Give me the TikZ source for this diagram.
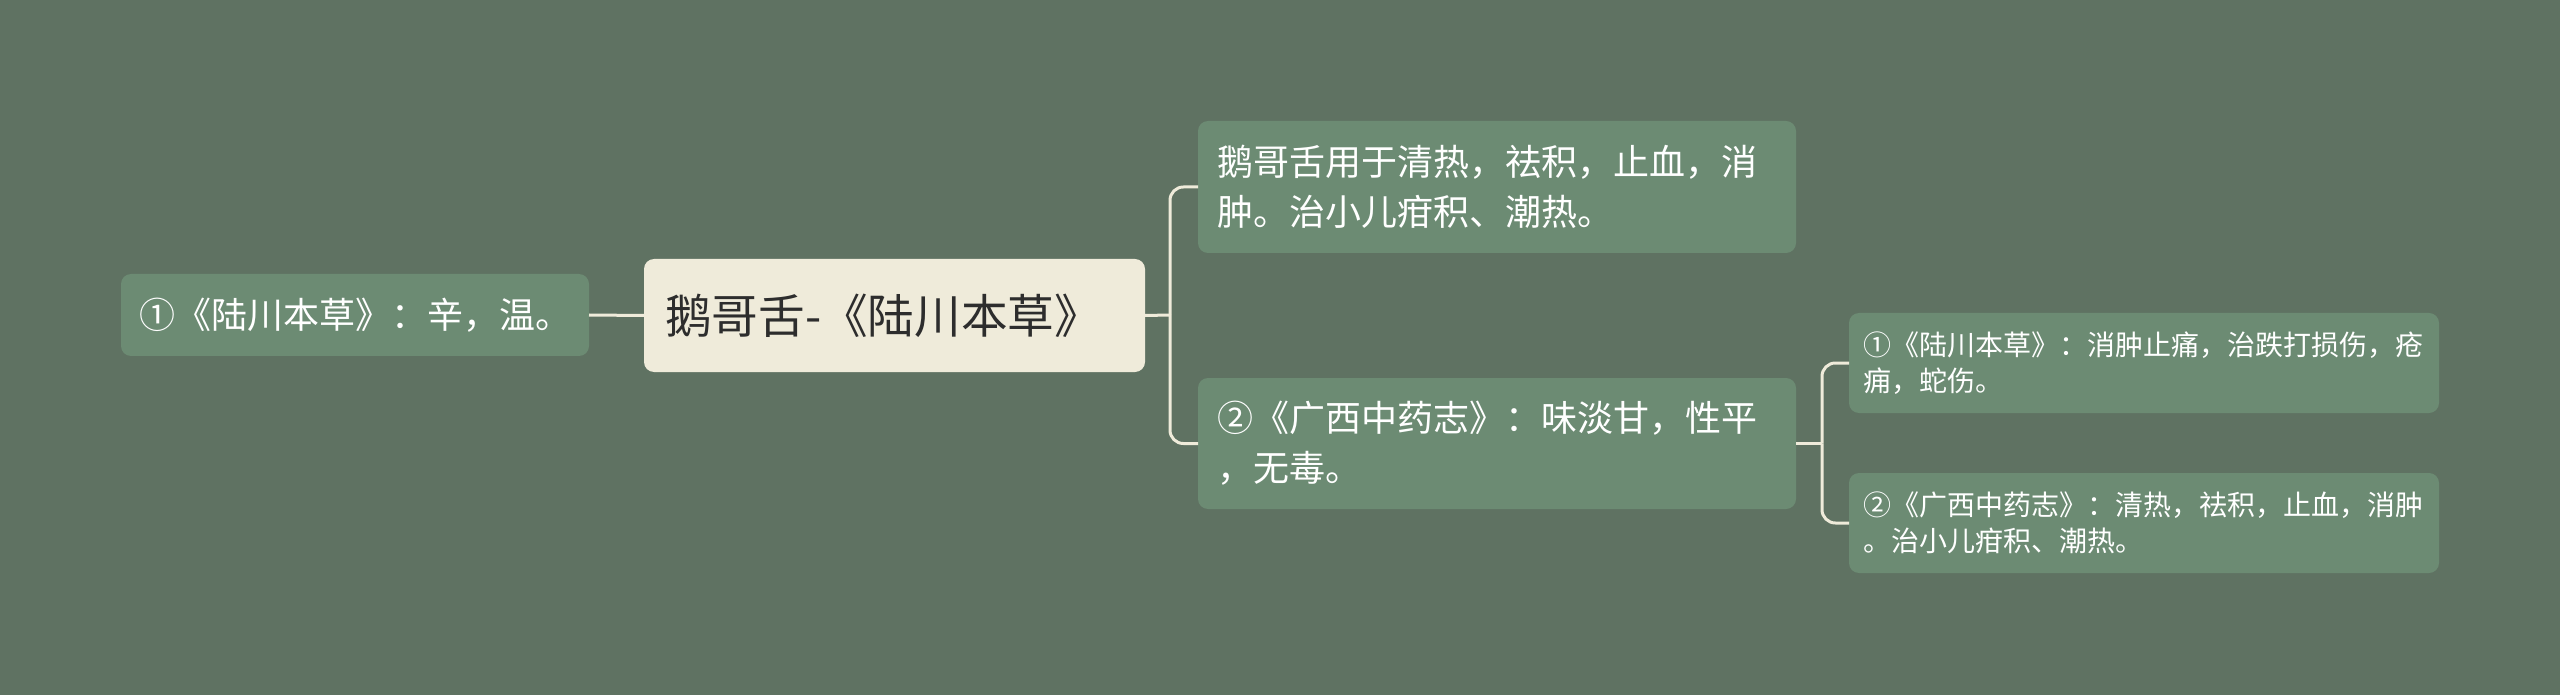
\documentclass[tikz,border=0pt]{standalone}
\usepackage{fontspec}
\setmainfont{Noto Sans CJK SC}
\usepackage{tikz}
\usepackage{xcolor}
\definecolor{bggreen}{RGB}{95,114,98}
\definecolor{nodegreen}{RGB}{108,139,115}
\definecolor{cream}{RGB}{239,235,218}
\definecolor{darktext}{RGB}{45,45,45}
\tikzset{%
    topic/.style={%
        anchor=north west, rounded corners=7.5pt, outer sep=0pt,
        inner ysep=0pt, align=left, fill=nodegreen, text=white
    },
    roottopic/.style={%
        topic, fill=cream, text=darktext
    },
    link/.style={%
        draw=cream, line width=2.25pt
    },
    bracket/.style={%
        link, rounded corners=10pt
    }
}

\begin{document}
\begin{tikzpicture}[x=0.75pt,y=-0.75pt]
    \useasboundingbox (0,0) rectangle (2560,695);
    \fill[bggreen] (0,0) rectangle (2560,695);
    \node[roottopic, text width=344.25pt, inner xsep=15.75pt, minimum height=84.75pt,
        font=\fontsize{35}{42}\selectfont] (root) at (644,259) {鹅哥舌-《陆川本草》};
    \node[topic, text width=324pt, inner xsep=13.5pt, minimum height=61.5pt,
        font=\fontsize{27}{34}\selectfont] (taste) at (121,274) {①《陆川本草》：辛，温。};
    \node[topic, text width=420pt, inner xsep=14.25pt, minimum height=99pt,
        font=\fontsize{27}{37.5}\selectfont] (use) at (1198,121)
        {鹅哥舌用于清热，祛积，止血，消\\肿。治小儿疳积、潮热。};
    \node[topic, text width=420pt, inner xsep=14.25pt, minimum height=98.25pt,
        font=\fontsize{27}{37.5}\selectfont] (gxzyz) at (1198,378)
        {②《广西中药志》：味淡甘，性平\\，无毒。};
    \node[topic, text width=421.5pt, inner xsep=10.5pt, minimum height=75pt,
        font=\fontsize{21}{27}\selectfont] (lcbc) at (1849,313)
        {①《陆川本草》：消肿止痛，治跌打损伤，疮\\痈，蛇伤。};
    \node[topic, text width=421.5pt, inner xsep=10.5pt, minimum height=75pt,
        font=\fontsize{21}{27}\selectfont] (gxzyz2) at (1849,473)
        {②《广西中药志》：清热，祛积，止血，消肿\\。治小儿疳积、潮热。};
    \coordinate (rootfork) at (1170,315);
    \coordinate (gxfork) at (1822,443.5);
    \draw[link] (taste.east) -- (root.west);
    \draw[link] (root.east) -- (rootfork);
    \draw[bracket] (rootfork) |- (use.west);
    \draw[bracket] (rootfork) |- (gxzyz.west);
    \draw[link] (gxzyz.east) -- (gxfork);
    \draw[bracket] (gxfork) |- (lcbc.west);
    \draw[bracket] (gxfork) |- (gxzyz2.west);
\end{tikzpicture}
\end{document}
